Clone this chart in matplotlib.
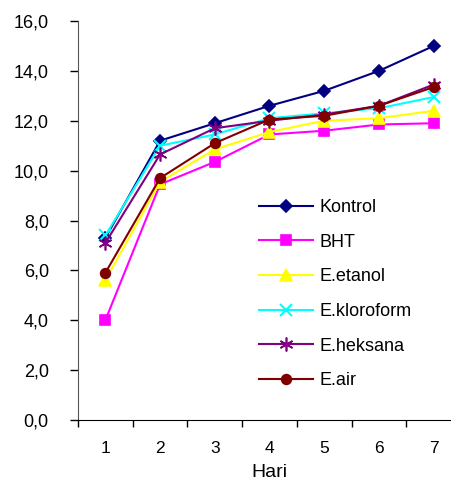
import matplotlib
matplotlib.use('Agg')
import matplotlib.pyplot as plt
from matplotlib.ticker import FuncFormatter, FixedLocator

plt.rcParams['font.family'] = ['Liberation Sans', 'DejaVu Sans']

days = [1, 2, 3, 4, 5, 6, 7]
series_names = ['Kontrol', 'BHT', 'E.etanol', 'E.kloroform', 'E.heksana', 'E.air']

kontrol = [7.3, 11.2, 11.9, 12.6, 13.2, 14.0, 15.0]
bht = [4.0, 9.45, 10.35, 11.45, 11.6, 11.85, 11.9]
etanol = [5.6, 9.55, 10.85, 11.55, 12.0, 12.1, 12.4]
kloroform = [7.4, 11.0, 11.45, 12.1, 12.3, 12.5, 12.95]
heksana = [7.1, 10.65, 11.7, 12.0, 12.25, 12.6, 13.45]
air = [5.9, 9.7, 11.1, 12.05, 12.2, 12.6, 13.35]

values = [kontrol, bht, etanol, kloroform, heksana, air]
colors = ['#000080', '#FF00FF', '#FFFF00', '#00FFFF', '#800080', '#800000']
markers = ['D', 's', '^', 'x', (6, 2, 0), 'o']
msizes = [6, 7, 9, 9, 10, 7]

fig = plt.figure(figsize=(4.52, 4.87), dpi=100)
ax = fig.add_axes([78 / 452, 67 / 487, 383 / 452, 399 / 487])

for name, vals, c, m, ms in zip(series_names, values, colors, markers, msizes):
    ax.plot(days, vals, color=c, marker=m, markersize=ms, linewidth=1.5,
            markeredgewidth=1.5 if m in ('x',) else 1.2, label=name)

ax.set_xlim(0.5, 7.5)
ax.set_ylim(0, 16)
ax.yaxis.set_major_locator(FixedLocator([0, 2, 4, 6, 8, 10, 12, 14, 16]))
ax.yaxis.set_major_formatter(FuncFormatter(lambda v, p: f'{v:.1f}'.replace('.', ',')))

ax.set_xticks(days)
ax.set_xticks([d + 0.5 for d in [0] + days], minor=True)
ax.tick_params(axis='x', which='major', length=0, pad=15, labelsize=12.5)
ax.tick_params(axis='x', which='minor', length=5, width=1, direction='out')
ax.tick_params(axis='y', length=6, width=1, direction='out', labelsize=13, pad=15)

for s in ['top', 'right']:
    ax.spines[s].set_visible(False)
ax.spines['left'].set_color('#555555')
ax.spines['bottom'].set_color('black')

ax.set_xlabel('Hari', fontsize=14, labelpad=6)

ax.legend(loc='upper left', bbox_to_anchor=(0.43, 0.595), frameon=False,
          fontsize=13, handlelength=3.0, handletextpad=0.35, labelspacing=0.98)

fig.savefig('out.png', dpi=100)
